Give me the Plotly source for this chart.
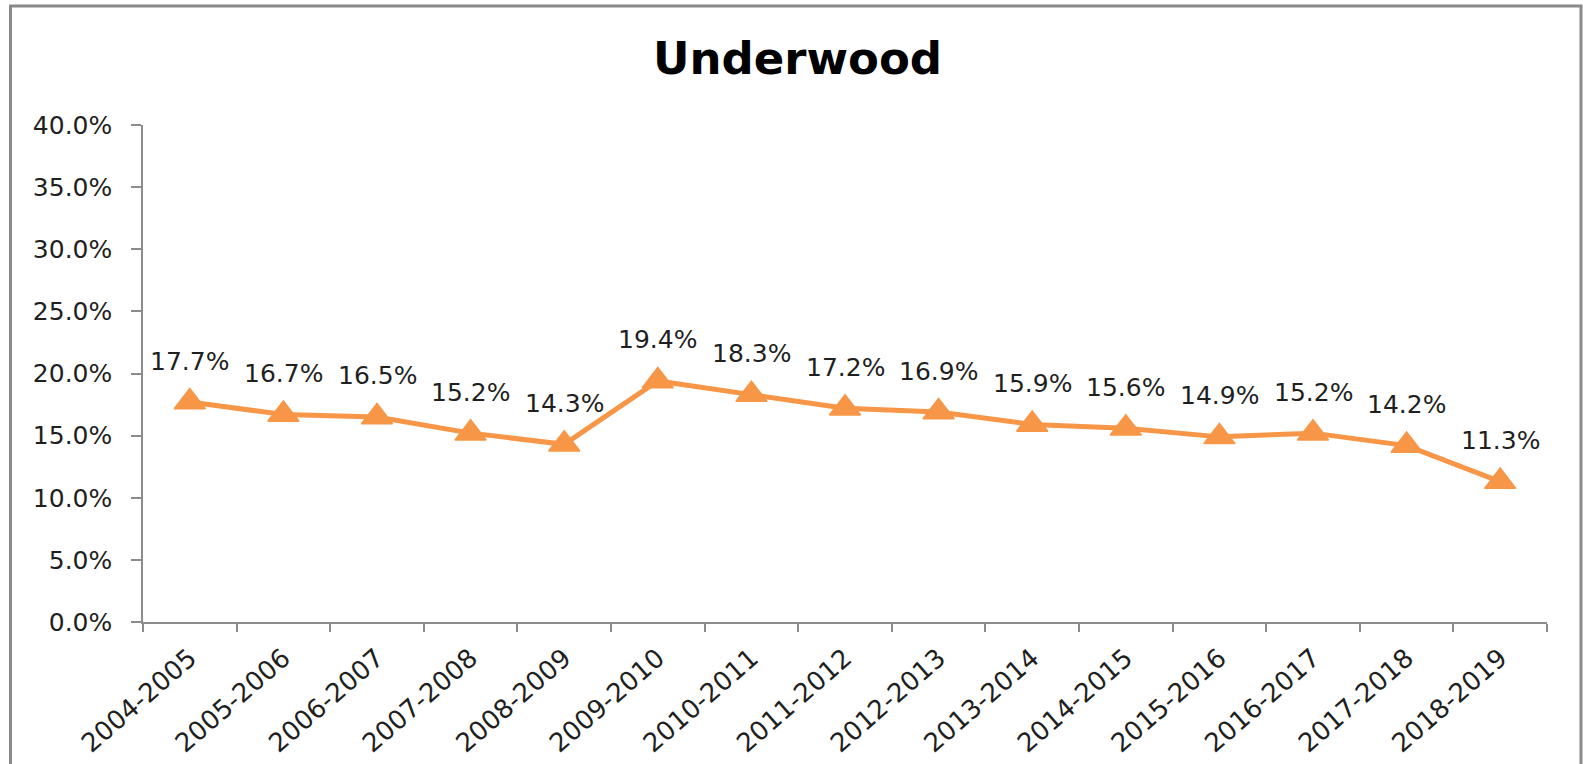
import plotly.graph_objects as go

categories = ["2004-2005", "2005-2006", "2006-2007", "2007-2008", "2008-2009",
              "2009-2010", "2010-2011", "2011-2012", "2012-2013", "2013-2014",
              "2014-2015", "2015-2016", "2016-2017", "2017-2018", "2018-2019"]
values = [0.177, 0.167, 0.165, 0.152, 0.143, 0.194, 0.183, 0.172, 0.169,
          0.159, 0.156, 0.149, 0.152, 0.142, 0.113]
label_texts = ["17.7%", "16.7%", "16.5%", "15.2%", "14.3%", "19.4%", "18.3%",
               "17.2%", "16.9%", "15.9%", "15.6%", "14.9%", "15.2%", "14.2%", "11.3%"]

W, H = 1583, 764
ML, MR, MT, MB = 143, 36, 125, 142
ORANGE = "#F79646"
AXIS = "#8C8C8C"
TXT = "#1F1F1F"
FONT = "DejaVu Sans"

fig = go.Figure()
fig.add_trace(go.Scatter(
    x=categories, y=values, mode="lines+markers",
    line=dict(color=ORANGE, width=5),
    marker=dict(symbol="triangle-up", size=27, color=ORANGE,
                line=dict(color=ORANGE, width=1.5)),
    hoverinfo="skip", showlegend=False,
))

for c, v, t in zip(categories, values, label_texts):
    fig.add_annotation(x=c, y=v, text=t, showarrow=False, xanchor="center",
                       yanchor="middle", yshift=41,
                       font=dict(family=FONT, size=25, color=TXT))

pw = W - ML - MR
ph = H - MT - MB
def px2xp(px):
    return (px - ML) / pw
def py2yp(py):
    return 1 - (py - MT) / ph

fig.add_shape(type="path", xref="paper", yref="paper",
              path=f"M {px2xp(10.5)} {py2yp(780)} L {px2xp(10.5)} {py2yp(6)} "
                   f"L {px2xp(1581)} {py2yp(6)} L {px2xp(1581)} {py2yp(780)}",
              line=dict(color="#8A8A8A", width=3))

fig.update_layout(
    width=W, height=H,
    margin=dict(l=ML, r=MR, t=MT, b=MB, pad=0),
    paper_bgcolor="white", plot_bgcolor="white",
    title=dict(text="<b>Underwood</b>", x=797.5 / W, xanchor="center",
               y=1 - 58 / H, yanchor="middle",
               font=dict(family=FONT, size=45, color="#000000")),
    xaxis=dict(type="category", range=[-0.5, len(categories) - 0.5],
               tickson="boundaries", ticks="outside", ticklen=8,
               tickcolor=AXIS, tickwidth=1.5, showline=True, linecolor=AXIS,
               linewidth=1.5, showgrid=False, zeroline=False, tickangle=-41,
               automargin=False, ticklabelstandoff=9,
               tickfont=dict(family=FONT, size=26, color=TXT)),
    yaxis=dict(range=[0, 0.4], dtick=0.05, tickformat=".1%",
               ticks="outside", ticklen=10, tickcolor=AXIS, tickwidth=1.5,
               showline=True, linecolor=AXIS, linewidth=1.5, showgrid=False,
               zeroline=False, ticklabelstandoff=14, automargin=False,
               tickfont=dict(family=FONT, size=25, color=TXT)),
)

fig.write_html("out.html", config={"displayModeBar": False},
               post_script="document.body.style.margin='0';document.body.style.overflow='hidden';")
